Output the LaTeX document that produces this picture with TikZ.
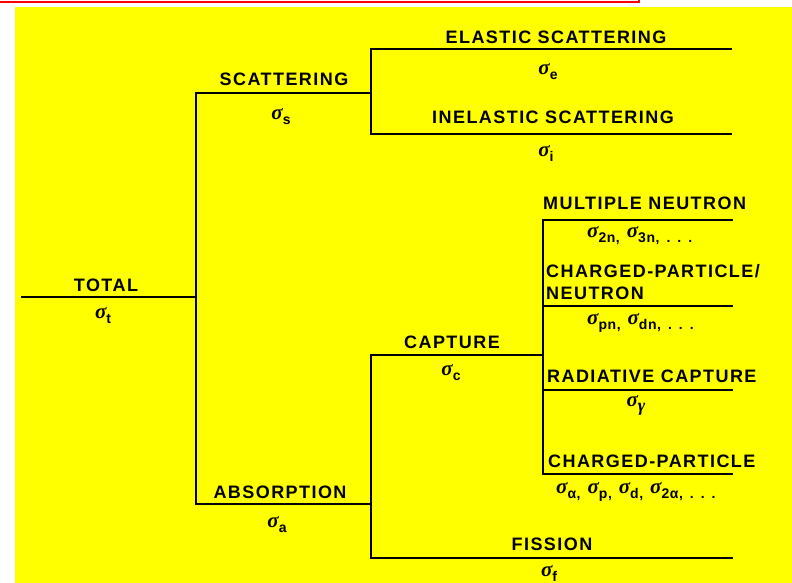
\documentclass[tikz,border=0pt]{standalone}
\usepackage{fontspec}
\setmainfont{Liberation Sans}
\newfontfamily\labf{Liberation Sans}[LetterSpace=8]
\newfontfamily\subf{Liberation Sans}[LetterSpace=4]
\newfontfamily\grf{Liberation Serif}
\newcommand\sig{{\grf\bfseries\itshape\fontsize{21}{21}\selectfont σ}}
\newcommand\lo[1]{\raisebox{-5pt}{\subf\bfseries\fontsize{14}{14}\selectfont #1}}
\newcommand\gi[1]{{\grf\bfseries\itshape #1}}
\newcommand\gap{\hspace{7pt}}
\newcommand\dotsx{.\hspace{7pt}.\hspace{7pt}.}
\definecolor{bgyellow}{HTML}{FFFF00}
\tikzset{
  lab/.style={inner sep=0pt, font=\labf\bfseries\fontsize{18}{20}\selectfont},
  sg/.style={inner sep=0pt},
  ln/.style={line width=2pt, line cap=rect, black},
}
\begin{document}
\begin{tikzpicture}[x=1pt,y=-1pt]
\useasboundingbox (0,0) rectangle (792,583);
\fill[bgyellow] (15,7) rectangle (792,583);
\coordinate (r0) at (0,2); \coordinate (r1) at (639,2); \coordinate (r2) at (639,-3);
\draw[red, line width=2.5pt] (r0) -- (r1) -- (r2);
% junction coordinates
\coordinate (T0) at (22,297); \coordinate (T1) at (196,297);
\coordinate (S0) at (196,93); \coordinate (S1) at (371,93);
\coordinate (A0) at (196,504); \coordinate (A1) at (371,504);
\coordinate (E0) at (371,49); \coordinate (E1) at (731,49);
\coordinate (I0) at (371,134); \coordinate (I1) at (731,134);
\coordinate (C0) at (371,355); \coordinate (C1) at (543,355);
\coordinate (F0) at (371,558); \coordinate (F1) at (732,558);
\coordinate (M0) at (543,220); \coordinate (M1) at (732,220);
\coordinate (N0) at (543,306); \coordinate (N1) at (732,306);
\coordinate (R0) at (543,390); \coordinate (R1) at (732,390);
\coordinate (P0) at (543,474); \coordinate (P1) at (732,474);
% tree lines
\draw[ln] (T0) -- (T1);
\draw[ln] (S1) -- (S0) -- (A0) -- (A1);
\draw[ln] (E1) -- (E0) -- (I0) -- (I1);
\draw[ln] (C1) -- (C0) -- (F0) -- (F1);
\draw[ln] (M1) -- (M0) -- (P0) -- (P1);
\draw[ln] (N0) -- (N1);
\draw[ln] (R0) -- (R1);
% labels
\node[lab, anchor=base] (total) at (106,291) {TOTAL};
\node[sg, anchor=base] (st) at (103,318) {\sig\lo{t}};
\node[lab, anchor=base] (scat) at (284,86) {SCATTERING};
\node[sg, anchor=base] (ss) at (281,120) {\sig\lo{s}};
\node[lab, anchor=base] (el) at (556,44) {ELASTIC SCATTERING};
\node[sg, anchor=base] (se) at (548,75) {\sig\lo{e}};
\node[lab, anchor=base] (inel) at (553,124) {INELASTIC SCATTERING};
\node[sg, anchor=base] (si) at (546,157) {\sig\lo{i}};
\node[lab, anchor=base west] (mult) at (543,209) {MULTIPLE NEUTRON};
\node[sg, anchor=base west] (smn) at (587,237) {\sig\lo{2n,}\gap\sig\lo{3n,\gap\dotsx}};
\node[lab, anchor=base west] (cpn1) at (546,277) {CHARGED-PARTICLE/};
\node[lab, anchor=base west] (cpn2) at (546,299) {NEUTRON};
\node[sg, anchor=base west] (spn) at (587,324) {\sig\lo{pn,}\gap\sig\lo{dn,\gap\dotsx}};
\node[lab, anchor=base] (capt) at (452,348) {CAPTURE};
\node[sg, anchor=base] (sc) at (451,375) {\sig\lo{c}};
\node[lab, anchor=base west] (rad) at (547,382) {RADIATIVE CAPTURE};
\node[sg, anchor=base] (sgam) at (636,406) {\sig\raisebox{-5pt}{\fontsize{18}{18}\selectfont\gi{γ}}};
\node[lab, anchor=base west] (cp) at (548,467) {CHARGED-PARTICLE};
\node[sg, anchor=base west] (sal) at (556,493) {\sig\lo{α,}\gap\sig\lo{p,}\gap\sig\lo{d,}\gap\sig\lo{2α,\gap\dotsx}};
\node[lab, anchor=base] (abs) at (280,498) {ABSORPTION};
\node[sg, anchor=base] (sa) at (277,527) {\sig\lo{a}};
\node[lab, anchor=base] (fis) at (552,550) {FISSION};
\node[sg, anchor=base] (sf) at (549,576) {\sig\lo{f}};
\end{tikzpicture}
\end{document}
